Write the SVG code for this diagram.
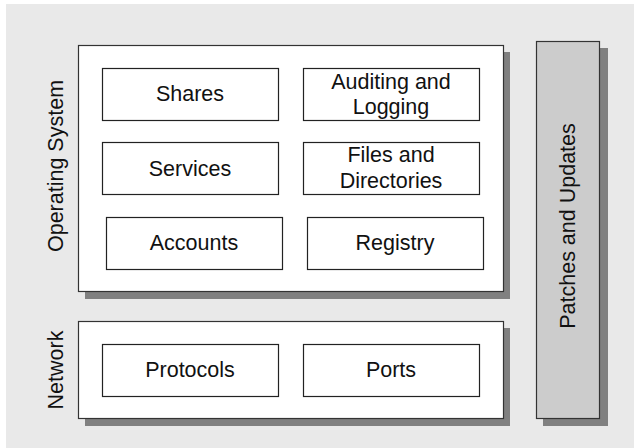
<svg xmlns="http://www.w3.org/2000/svg" width="634" height="448" viewBox="0 0 634 448">
<style>
.bg{fill:#e9e9e9}
.sh{fill:#808080}
.panel{fill:#ffffff;stroke:#333333;stroke-width:1.2}
.side{fill:#cccccc;stroke:#333333;stroke-width:1.2}
.box{fill:#ffffff;stroke:#222222;stroke-width:1.2}
text{font-family:"Liberation Sans",Arial,sans-serif;font-size:21.5px;fill:#111111;text-anchor:middle}
</style>
<rect class="bg" x="6" y="4" width="628" height="444"/>
<g id="operating-system">
<rect class="sh" x="85" y="52" width="425" height="247"/>
<rect class="panel" x="78.5" y="45.5" width="425" height="246"/>
<text transform="translate(63,166) rotate(-90)">Operating System</text>
</g>
<g id="network">
<rect class="sh" x="85" y="328" width="425" height="98"/>
<rect class="panel" x="78.5" y="321.5" width="425" height="97"/>
<text transform="translate(63,370) rotate(-90)">Network</text>
</g>
<g id="patches">
<rect class="sh" x="543" y="48" width="65" height="378"/>
<rect class="side" x="536.5" y="41.5" width="63" height="377"/>
<text transform="translate(575,226) rotate(-90)">Patches and Updates</text>
</g>
<g id="shares"><rect class="box" x="102.5" y="68.5" width="176" height="52"/><text x="190" y="101">Shares</text></g>
<g id="auditing"><rect class="box" x="303.5" y="68.5" width="176" height="52"/><text x="391" y="88.5">Auditing and</text><text x="391" y="113.5">Logging</text></g>
<g id="services"><rect class="box" x="102.5" y="142.5" width="176" height="52"/><text x="190" y="176">Services</text></g>
<g id="files"><rect class="box" x="303.5" y="142.5" width="176" height="52"/><text x="391" y="162">Files and</text><text x="391" y="187.5">Directories</text></g>
<g id="accounts"><rect class="box" x="106.5" y="217.5" width="176" height="52"/><text x="194" y="250">Accounts</text></g>
<g id="registry"><rect class="box" x="307.5" y="217.5" width="176" height="52"/><text x="395" y="250">Registry</text></g>
<g id="protocols"><rect class="box" x="102.5" y="344.5" width="176" height="52"/><text x="190" y="377">Protocols</text></g>
<g id="ports"><rect class="box" x="303.5" y="344.5" width="176" height="52"/><text x="391" y="377">Ports</text></g>
<g id="connectors"></g>
</svg>
